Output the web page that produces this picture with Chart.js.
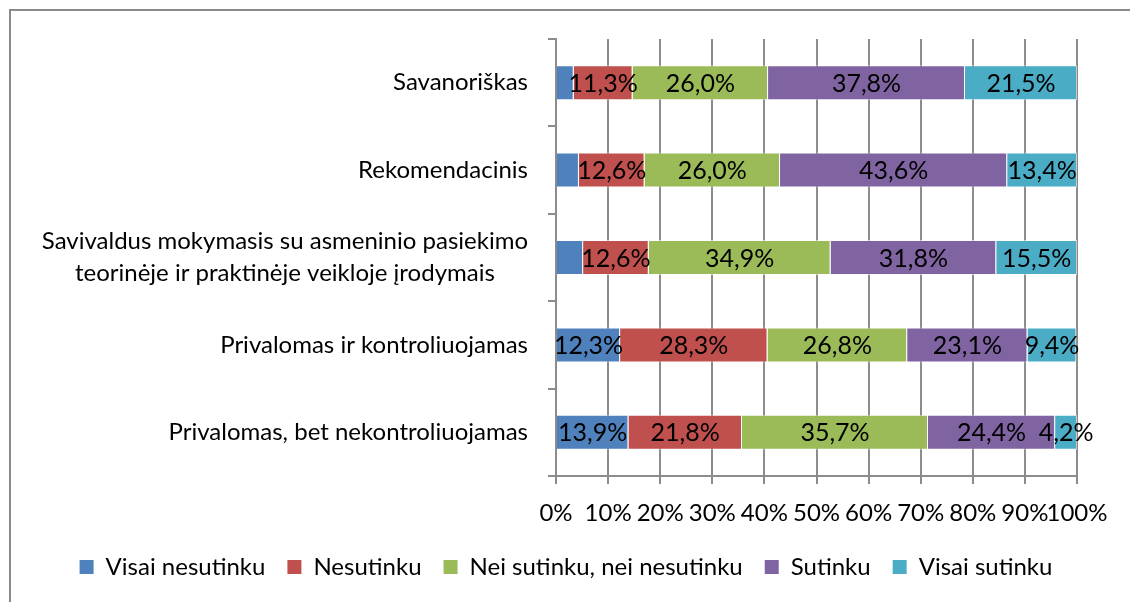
<!DOCTYPE html>
<html>
<head>
<meta charset="utf-8">
<script src="https://cdn.jsdelivr.net/npm/chart.js@4"></script>
<style>
  body { margin: 0; background: #fff; }
  #wrap { position: absolute; left: 0; top: 0; width: 1130px; height: 602px; }
  #frame { position: absolute; left: 9px; top: 9px; width: 1140px; height: 620px;
           border-left: 2px solid #8a8a8a; border-top: 2px solid #8a8a8a; }
</style>
</head>
<body>
<div id="frame"></div>
<div id="wrap"><canvas id="chart" width="1130" height="602"></canvas></div>
<script>
const categories = [
  'Savanoriškas',
  'Rekomendacinis',
  ['Savivaldus mokymasis su asmeninio pasiekimo', 'teorinėje ir praktinėje veikloje įrodymais'],
  'Privalomas ir kontroliuojamas',
  'Privalomas, bet nekontroliuojamas'
];
const seriesNames = ['Visai nesutinku', 'Nesutinku', 'Nei sutinku, nei nesutinku', 'Sutinku', 'Visai sutinku'];
const visaiNesutinku = [3.4, 4.4, 5.2, 12.3, 13.9];
const nesutinku = [11.3, 12.6, 12.6, 28.3, 21.8];
const neiSutinku = [26.0, 26.0, 34.9, 26.8, 35.7];
const sutinku = [37.8, 43.6, 31.8, 23.1, 24.4];
const visaiSutinku = [21.5, 13.4, 15.5, 9.4, 4.2];
// first segment has no label in the top three rows
const hiddenLabels = [[0, 0], [0, 1], [0, 2]];
const xTicks = [0, 10, 20, 30, 40, 50, 60, 70, 80, 90, 100];

const colors = ['#4F81BD', '#C0504D', '#9BBB59', '#8064A2', '#4BACC6'];
const FONT = 'Lato';

const seriesData = [visaiNesutinku, nesutinku, neiSutinku, sutinku, visaiSutinku];

const labelPlugin = {
  id: 'segLabels',
  afterDatasetsDraw(chart) {
    const ctx = chart.ctx;
    ctx.save();
    ctx.fillStyle = '#000';
    ctx.textAlign = 'center';
    ctx.textBaseline = 'middle';
    ctx.font = '25px ' + FONT;
    chart.data.datasets.forEach((ds, i) => {
      chart.getDatasetMeta(i).data.forEach((bar, j) => {
        if (hiddenLabels.some(h => h[0] === i && h[1] === j)) return;
        const txt = ds.data[j].toFixed(1).replace('.', ',') + '%';
        ctx.fillText(txt, (bar.x + bar.base) / 2, bar.y + 1);
      });
    });
    // category labels, each block centred on its widest line, blocks right aligned
    ctx.font = '24px ' + FONT;
    const yScale = chart.scales.y;
    const right = yScale.right - 28;
    categories.forEach((c, j) => {
      const lines = Array.isArray(c) ? c : [c];
      const widest = Math.max(...lines.map(l => ctx.measureText(l).width));
      const cx = right - widest / 2;
      const cy = yScale.getPixelForValue(j);
      const lh = 32;
      lines.forEach((l, k) => {
        ctx.fillText(l, cx, cy + (k - (lines.length - 1) / 2) * lh);
      });
    });
    ctx.restore();
  }
};

new Chart(document.getElementById('chart'), {
  type: 'bar',
  data: {
    labels: categories,
    datasets: seriesData.map((d, i) => ({
      label: seriesNames[i],
      data: d,
      backgroundColor: colors[i],
      borderColor: 'rgba(255,255,255,0.55)',
      borderWidth: 1,
      categoryPercentage: 1,
      barPercentage: 0.4
    }))
  },
  options: {
    indexAxis: 'y',
    responsive: false,
    animation: false,
    layout: { padding: { top: 39, right: 53, left: 55, bottom: 13 } },
    scales: {
      x: {
        stacked: true,
        min: 0,
        max: 100,
        afterFit: (s) => { s.height = 57; },
        afterBuildTicks: (s) => { s.ticks = xTicks.map(v => ({ value: v })); },
        ticks: {
          autoSkip: false,
          maxRotation: 0,
          padding: 15,
          color: '#000',
          font: { family: FONT, size: 24 },
          callback: (v) => v + '%'
        },
        grid: { color: '#8c8c8c', lineWidth: 2, tickLength: 8 },
        border: { color: '#8c8c8c', width: 2 }
      },
      y: {
        stacked: true,
        afterFit: (s) => { s.width = 501; },
        ticks: { color: 'rgba(0,0,0,0)', font: { family: FONT, size: 24 } },
        grid: { drawOnChartArea: false, color: '#8c8c8c', lineWidth: 2, tickLength: 8, offset: true },
        border: { color: '#8c8c8c', width: 2 }
      }
    },
    plugins: {
      tooltip: { enabled: false },
      legend: {
        position: 'bottom',
        labels: {
          color: '#000',
          font: { family: FONT, size: 24 },
          boxWidth: 14,
          boxHeight: 14,
          padding: 22,
          generateLabels: (chart) => chart.data.datasets.map((ds, i) => ({
            text: ds.label,
            fillStyle: ds.backgroundColor,
            strokeStyle: ds.backgroundColor,
            lineWidth: 0,
            fontColor: '#000',
            datasetIndex: i
          }))
        }
      }
    }
  },
  plugins: [labelPlugin]
});
</script>
</body>
</html>
